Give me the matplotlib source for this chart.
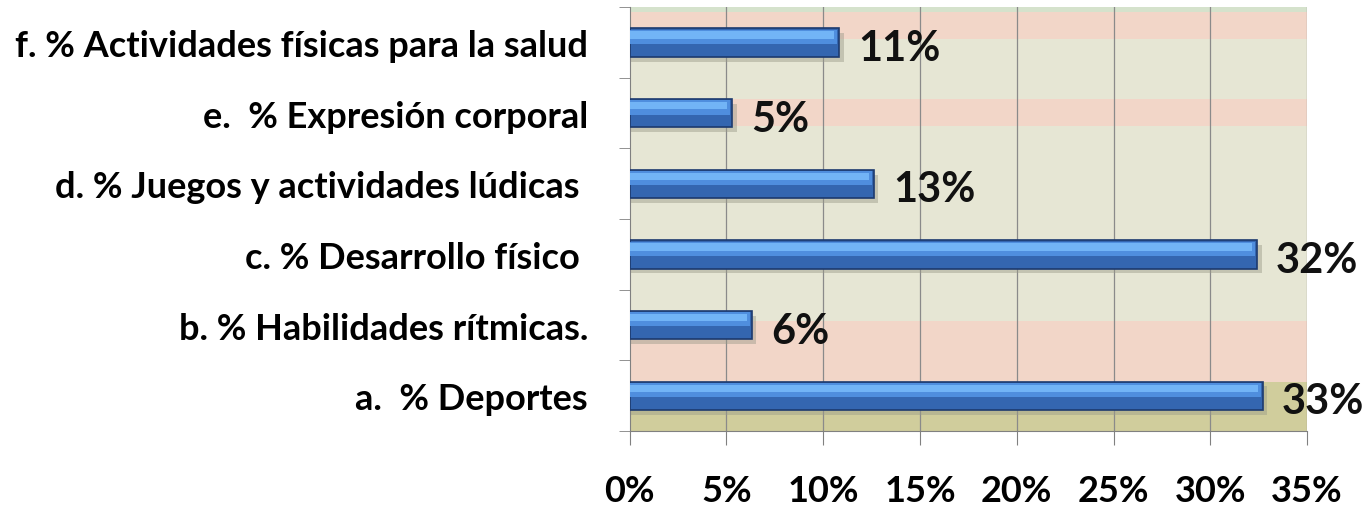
import matplotlib.pyplot as plt
import numpy as np

# data (bottom to top)
categories = ['a.  % Deportes', 'b. % Habilidades rítmicas.', 'c. % Desarrollo físico ',
              'd. % Juegos y actividades lúdicas ', 'e.  % Expresión corporal',
              'f. % Actividades físicas para la salud']
values = [32.7, 6.3, 32.4, 12.6, 5.3, 10.8]
xticks = [0, 5, 10, 15, 20, 25, 30, 35]

plt.rcParams['font.family'] = ['Lato', 'DejaVu Sans']

fig = plt.figure(figsize=(13.63, 5.10), dpi=100)
ax = fig.add_axes([0.462, 0.153, 0.497, 0.831])

y = np.arange(len(categories))
ax.set_xlim(0, 35)
ax.set_ylim(-0.5, len(categories) - 0.5)

# background bands
bands = [(-0.5, 0.19, '#d0cd9c'), (0.19, 1.06, '#f2d6c8'), (1.06, 3.82, '#e6e6d4'),
         (3.82, 4.20, '#f2d6c8'), (4.20, 5.05, '#e6e6d4'), (5.05, 5.43, '#f2d6c8'),
         (5.43, 5.5, '#d5e2cc')]
for lo, hi, c in bands:
    ax.axhspan(lo, hi, color=c, zorder=0, lw=0)

for xv in xticks[1:]:
    ax.axvline(xv, color='#8a8a8a', lw=0.9, zorder=1)

h = 0.4
vals = np.array(values)
# shadow
ax.barh(y - 0.07, vals + 0.25, height=h, color='#9a9a88', alpha=0.45, zorder=2, lw=0)
# main bar
ax.barh(y, vals, height=h, color='#3466b0', edgecolor='#1d3a6e', lw=1.2, zorder=3)
# lighter upper part of the bar
ax.barh(y + h * 0.2, vals - 0.1, height=h * 0.5, color='#4f8ede', lw=0, zorder=4)
ax.barh(y + h * 0.26, vals - 0.25, height=h * 0.26, color='#72b4f6', lw=0, zorder=4)

for yi, v in zip(y, values):
    ax.text(v + 1.0, yi - 0.08, f'{round(v)}%', va='center', ha='left',
            fontsize=30, fontweight='bold', color='#111111', zorder=5)

ax.set_yticks(y)
ax.set_yticklabels(categories, fontsize=26, fontweight='bold')
ax.tick_params(axis='y', length=0, pad=30)
ax.set_yticks(np.arange(-0.5, len(categories)), minor=True)
ax.tick_params(axis='y', which='minor', length=8, color='#808080', direction='out')

ax.set_xticks(xticks)
ax.set_xticklabels([f'{t}%' for t in xticks], fontsize=26, fontweight='bold')
ax.tick_params(axis='x', length=10, color='#808080', pad=21)

for s in ['top', 'right']:
    ax.spines[s].set_visible(False)
ax.spines['left'].set_color('#808080')
ax.spines['bottom'].set_color('#808080')

fig.savefig('out.png', dpi=100)
